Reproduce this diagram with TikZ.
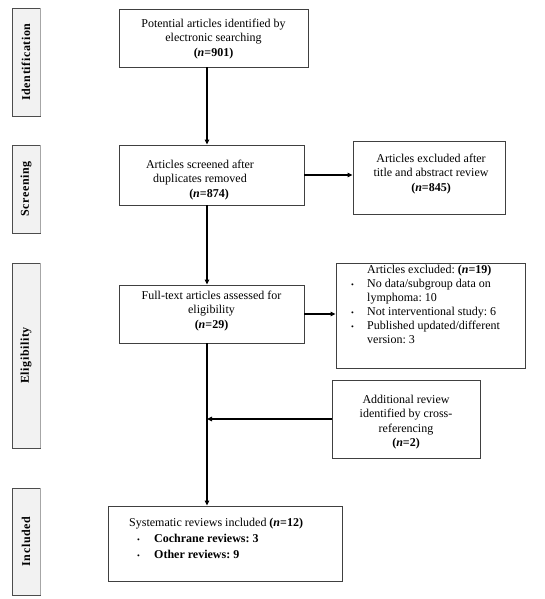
\documentclass[tikz,border=0pt]{standalone}
\usepackage{fontspec}
\setmainfont{Liberation Serif}
\usetikzlibrary{arrows.meta}
\frenchspacing
\newcommand{\nn}[1]{\textbf{(\textit{n}=#1)}}
\newcommand{\bul}{{\fontsize{8}{8}\selectfont\textbullet}}
\begin{document}
\begin{tikzpicture}[x=1pt,y=-1pt,
  box/.style={draw=black!75, line width=0.8pt, inner sep=0pt},
  phase/.style={draw=black!70, fill=black!5, line width=0.9pt, inner sep=0pt, minimum width=28pt},
  txt/.style={align=center, inner sep=0pt, font=\fontsize{12}{14.5}\selectfont},
  ltxt/.style={align=left, inner sep=0pt, font=\fontsize{12}{14}\selectfont, anchor=north west},
  lab/.style={rotate=90, inner sep=0pt, font=\fontsize{12}{12}\selectfont\bfseries\addfontfeatures{LetterSpace=5}},
  shade/.style={draw=black!35, line width=1.4pt},
  arr/.style={line width=1.2pt, -{Triangle[length=5pt,width=4.5pt]}},
  ]
\useasboundingbox (0,0) rectangle (544,599);

% phase labels
\node[phase, minimum height=108pt] (p1) at (26,62) {};
\node[phase, minimum height=88pt] (p2) at (26,189) {};
\node[phase, minimum height=185pt] (p3) at (26,355.5) {};
\node[phase, minimum height=107pt] (p4) at (26,541.5) {};
\foreach \p in {p1,p2,p3,p4}{
  \draw[shade] ([xshift=0.3pt,yshift=-0.5pt]\p.north east) -- ([xshift=0.3pt,yshift=0.5pt]\p.south east);
}
\node[lab] (l1) at (p1) {Identification};
\node[lab] (l2) at (p2) {Screening};
\node[lab] (l3) at (p3) {Eligibility};
\node[lab] (l4) at (p4) {Included};

% boxes
\node[box, minimum width=189pt, minimum height=58pt] (b1) at (213.5,38) {};
\node[box, minimum width=185pt, minimum height=60pt] (b2) at (211.5,175) {};
\node[box, minimum width=152pt, minimum height=73pt] (b3) at (429,177.5) {};
\node[box, minimum width=185pt, minimum height=58pt] (b4) at (211.5,314) {};
\node[box, minimum width=189pt, minimum height=105pt] (b5) at (430.5,315.5) {};
\node[box, minimum width=148pt, minimum height=78pt] (b6) at (406,419) {};
\node[box, minimum width=234pt, minimum height=75pt] (b7) at (225,543.5) {};

% texts
\node[txt] (t1) at (213.5,39) {Potential articles identified by\\electronic searching\\\nn{901}};
\node[txt] (t2) at (200,180) {Articles screened after\\duplicates removed\\\hspace*{18pt}\nn{874}};
\node[txt] (t3) at (431,174) {Articles excluded after\\title and abstract review\\\nn{845}};
\node[txt] (t4) at (211.5,311) {Full-text articles assessed for\\eligibility\\\nn{29}};
\node[ltxt] (t5) at (349,265) {\makebox[18pt][l]{}Articles excluded: \nn{19}\\
\makebox[18pt][l]{\,\bul}No data/subgroup data on\\
\makebox[18pt][l]{}lymphoma: 10\\
\makebox[18pt][l]{\,\bul}Not interventional study: 6\\
\makebox[18pt][l]{\,\bul}Published updated/different\\
\makebox[18pt][l]{}version: 3};
\node[txt] (t6) at (406,422) {Additional review\\identified by cross-\\referencing\\\nn{2}};
\node[ltxt, font=\fontsize{12}{16}\selectfont] (t7) at (129,518) {Systematic reviews included \nn{12}\\
\makebox[25pt][l]{\hspace{8pt}\bul}\textbf{Cochrane reviews: 3}\\
\makebox[25pt][l]{\hspace{8pt}\bul}\textbf{Other reviews: 9}};

% connectors
\coordinate (ax) at (207,0);
\draw[arr] (b1.south -| ax) -- (b2.north -| ax);
\draw[arr] (b2.east) -- (b2.east -| b3.west);
\draw[arr] (b2.south -| ax) -- (b4.north -| ax);
\draw[arr] (b4.east) -- (b4.east -| b5.west);
\draw[arr] (b4.south -| ax) -- (b7.north -| ax);
\draw[arr] (b6.west) -- (b6.west -| ax);
\end{tikzpicture}
\end{document}
